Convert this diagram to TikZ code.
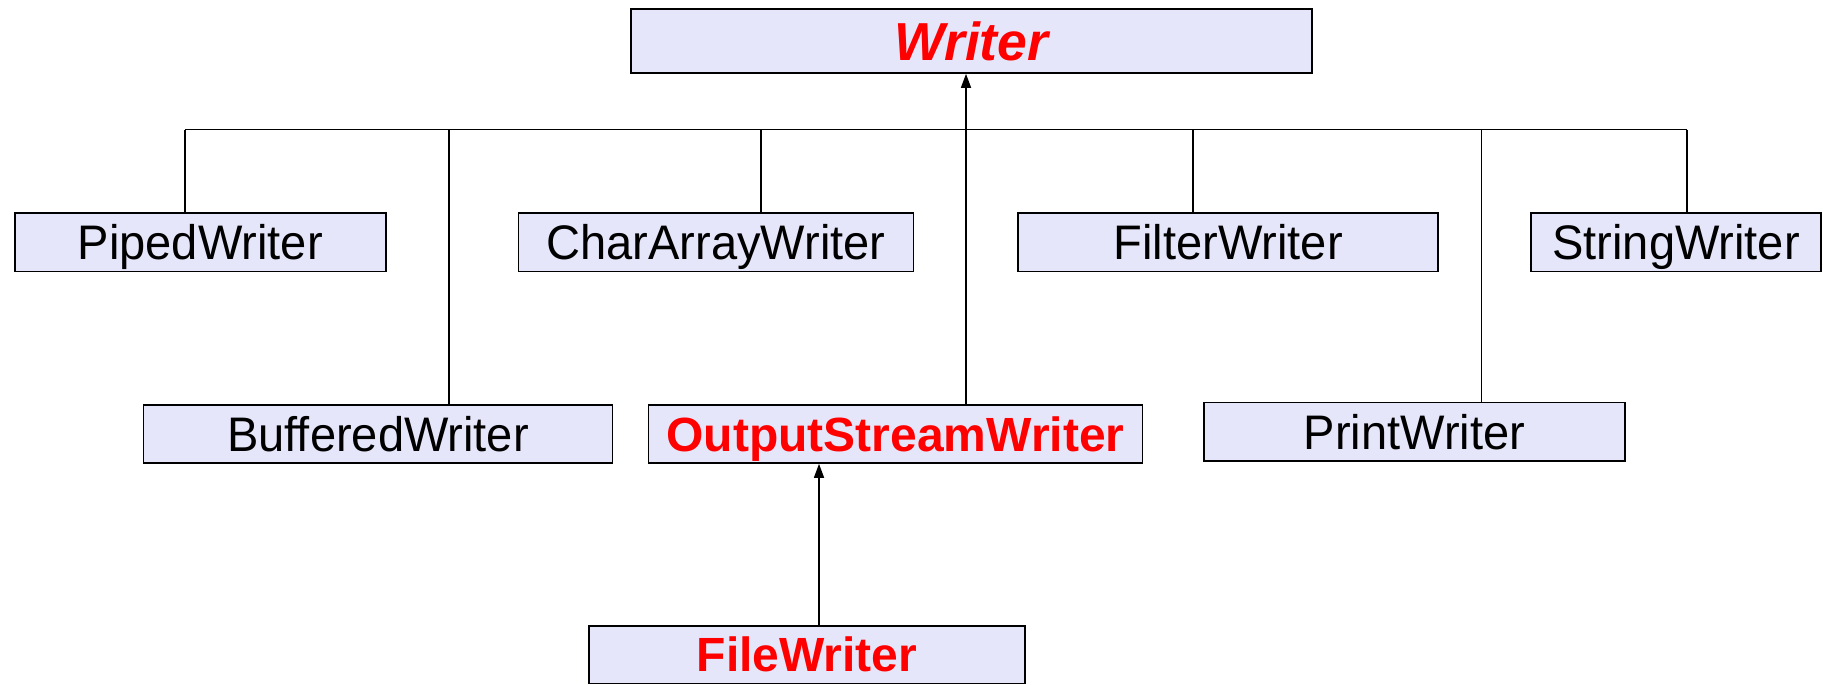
\documentclass[tikz,border=0pt]{standalone}
\usepackage{fontspec}
\setmainfont{Liberation Sans}
\newfontfamily\plainsans{Liberation Sans}[FakeStretch=0.97]
\usetikzlibrary{arrows.meta}
\definecolor{boxfill}{HTML}{E6E6FA}
\definecolor{hot}{HTML}{FF0000}
\tikzset{
  cls/.style={draw=black, line width=1.6pt, fill=boxfill, inner sep=0pt,
    text height=35pt, text depth=0pt, align=center,
    font=\plainsans\fontsize{48.5}{58}\selectfont},
  abstractcls/.style={cls, text=hot, text height=38pt,
    font=\fontsize{53.5}{62}\selectfont\bfseries\itshape},
  keycls/.style={cls, text=hot, text height=34.5pt,
    font=\fontsize{48}{58}\selectfont\bfseries},
  conn/.style={draw=black, line width=1.5pt},
  inherit/.style={conn, -{Triangle[length=14pt,width=10pt]}}
}
\begin{document}
\begin{tikzpicture}[x=1pt,y=-1pt]
\useasboundingbox (0,0) rectangle (1823,685);

% class boxes
\node[abstractcls, minimum width=681pt, minimum height=64pt] (writer) at (971.5,41) {Writer};

\node[cls, minimum width=371pt, minimum height=58.6pt] (piped) at (200.3,242) {PipedWriter};
\node[cls, minimum width=395pt, minimum height=58.6pt] (chararray) at (715.9,242) {CharArrayWriter};
\node[cls, minimum width=420pt, minimum height=58.6pt] (filter) at (1228.2,242) {FilterWriter};
\node[cls, minimum width=290pt, minimum height=58.6pt] (string) at (1676,242) {StringWriter};

\node[cls, minimum width=469pt, minimum height=58pt] (buffered) at (378,434) {BufferedWriter};
\node[keycls, minimum width=494pt, minimum height=58pt] (osw) at (895.5,434) {OutputStreamWriter};
\node[cls, minimum width=421pt, minimum height=58.4pt] (print) at (1414.5,431.5) {PrintWriter};

\node[keycls, minimum width=436pt, minimum height=57.6pt] (file) at (807,654.5) {FileWriter};

% junction points on the shared bus
\coordinate (bPiped) at (185,129.5);
\coordinate (bBuffered) at (448.8,129.5);
\coordinate (bChar) at (761,129.5);
\coordinate (hub) at (966,129.5);
\coordinate (bFilter) at (1193,129.5);
\coordinate (bPrint) at (1481.5,129.5);
\coordinate (bString) at (1687,129.5);
\coordinate (fileUp) at (819,600);

% bus and stems
\draw[conn] (bPiped) -- (bString);
\draw[conn] (bPiped) -- (bPiped |- piped.north);
\draw[conn] (bBuffered) -- (bBuffered |- buffered.north);
\draw[conn] (bChar) -- (bChar |- chararray.north);
\draw[conn] (bFilter) -- (bFilter |- filter.north);
\draw[conn] (bPrint) -- (bPrint |- print.north);
\draw[conn] (bString) -- (bString |- string.north);

% inheritance arrows
\draw[inherit] (osw.north -| hub) -- (writer.south -| hub);
\draw[inherit] (file.north -| fileUp) -- (osw.south -| fileUp);
\end{tikzpicture}
\end{document}
